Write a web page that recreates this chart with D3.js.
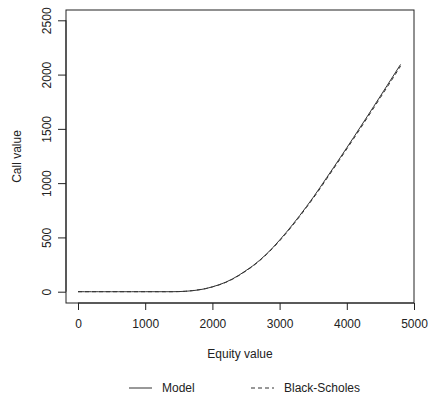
<!DOCTYPE html>
<html>
<head>
<meta charset="utf-8">
<script src="https://cdn.jsdelivr.net/npm/d3@7"></script>
<style>
  body { margin: 0; background: #fff; }
  svg { display: block; font-family: "Liberation Sans", Arial, sans-serif; }
</style>
</head>
<body>
<div id="chart"></div>
<script>
// equity values (x) and call values
const equity = [0, 100, 200, 300, 400, 500, 600, 700, 800, 900,
  1000, 1100, 1200, 1300, 1400, 1500, 1600, 1700, 1800, 1900,
  2000, 2100, 2200, 2300, 2400, 2500, 2600, 2700, 2800, 2900,
  3000, 3100, 3200, 3300, 3400, 3500, 3600, 3700, 3800, 3900,
  4000, 4100, 4200, 4300, 4400, 4500, 4600, 4700, 4800];
const modelValues = [0, 0, 0, 0, 0, 0, 0, 0, 0, 0,
  0, 0, 0, 0, 0, 1, 4, 9, 17, 28,
  45, 64, 88, 118, 154, 195, 238, 288, 344, 407,
  475, 547, 623, 702, 784, 869, 958, 1050, 1141, 1233,
  1326, 1420, 1515, 1610, 1706, 1802, 1899, 1996, 2093];
const bsValues = [0, 0, 0, 0, 0, 0, 0, 0, 0, 0,
  0, 0, 0, 0, 0, 1, 4, 10, 18, 29,
  44, 63, 86, 115, 151, 191, 234, 284, 339, 401,
  468, 540, 615, 694, 776, 860, 948, 1039, 1130, 1222,
  1315, 1408, 1502, 1597, 1692, 1788, 1884, 1980, 2078];
const xTicks = [0, 1000, 2000, 3000, 4000, 5000];
const yTicks = [0, 500, 1000, 1500, 2000, 2500];
const seriesNames = ["Model", "Black-Scholes"];

const W = 429, H = 398;
const box = {left: 66, top: 10, right: 414, bottom: 303};

const svg = d3.select("#chart").append("svg")
    .attr("width", W).attr("height", H);

const x = d3.scaleLinear().domain([0, 5000]).range([78, 414]);
const y = d3.scaleLinear().domain([0, 2500]).range([291.7, 20.3]);

const ink = "#222";

// plot box
svg.append("rect")
    .attr("x", box.left).attr("y", box.top)
    .attr("width", box.right - box.left).attr("height", box.bottom - box.top)
    .attr("fill", "none").attr("stroke", ink).attr("stroke-width", 1);

// X axis
const gx = svg.append("g")
    .attr("transform", "translate(0," + box.bottom + ")")
    .call(d3.axisBottom(x).tickValues(xTicks).tickFormat(d3.format("d")).tickSize(7).tickPadding(9));
gx.select(".domain").attr("stroke", ink).attr("d", "M" + x(0) + ",0H" + x(5000));
gx.selectAll(".tick line").attr("stroke", ink);
gx.selectAll("text").attr("font-size", 12).attr("fill", ink)
    .attr("font-family", "Liberation Sans, Arial, sans-serif");

// Y axis
const gy = svg.append("g")
    .attr("transform", "translate(" + box.left + ",0)")
    .call(d3.axisLeft(y).tickValues(yTicks).tickFormat(d3.format("d")).tickSize(8).tickPadding(0));
gy.select(".domain").attr("stroke", ink).attr("d", "M0," + y(0) + "V" + y(2500));
gy.selectAll(".tick line").attr("stroke", ink);
gy.selectAll("text")
    .attr("font-size", 12).attr("fill", ink)
    .attr("font-family", "Liberation Sans, Arial, sans-serif")
    .attr("x", null).attr("dy", null)
    .attr("text-anchor", "middle")
    .attr("transform", "translate(-19,0) rotate(-90)")
    .attr("dy", "0.35em");

// axis titles
svg.append("text")
    .attr("x", 240).attr("y", 358)
    .attr("text-anchor", "middle").attr("font-size", 12).attr("fill", ink)
    .text("Equity value");
svg.append("text")
    .attr("transform", "translate(21," + ((box.top + box.bottom) / 2) + ") rotate(-90)")
    .attr("text-anchor", "middle").attr("font-size", 12).attr("fill", ink)
    .text("Call value");

// lines
const line = d3.line().x((d, i) => x(equity[i])).y(d => y(d));
svg.append("path")
    .datum(modelValues)
    .attr("d", line)
    .attr("fill", "none").attr("stroke", "#333").attr("stroke-width", 1);
svg.append("path")
    .datum(bsValues)
    .attr("d", line)
    .attr("fill", "none").attr("stroke", "#333").attr("stroke-width", 1)
    .attr("stroke-dasharray", "4,3");

// legend
const legend = svg.append("g");
const items = [
  {name: seriesNames[0], x0: 129, dash: null},
  {name: seriesNames[1], x0: 251, dash: "4,3"}
];
items.forEach(it => {
  legend.append("line")
      .attr("x1", it.x0).attr("x2", it.x0 + 23)
      .attr("y1", 388).attr("y2", 388)
      .attr("stroke", "#333").attr("stroke-width", 1)
      .attr("stroke-dasharray", it.dash);
  legend.append("text")
      .attr("x", it.x0 + 33).attr("y", 392)
      .attr("font-size", 12).attr("fill", ink)
      .text(it.name);
});
</script>
</body>
</html>
